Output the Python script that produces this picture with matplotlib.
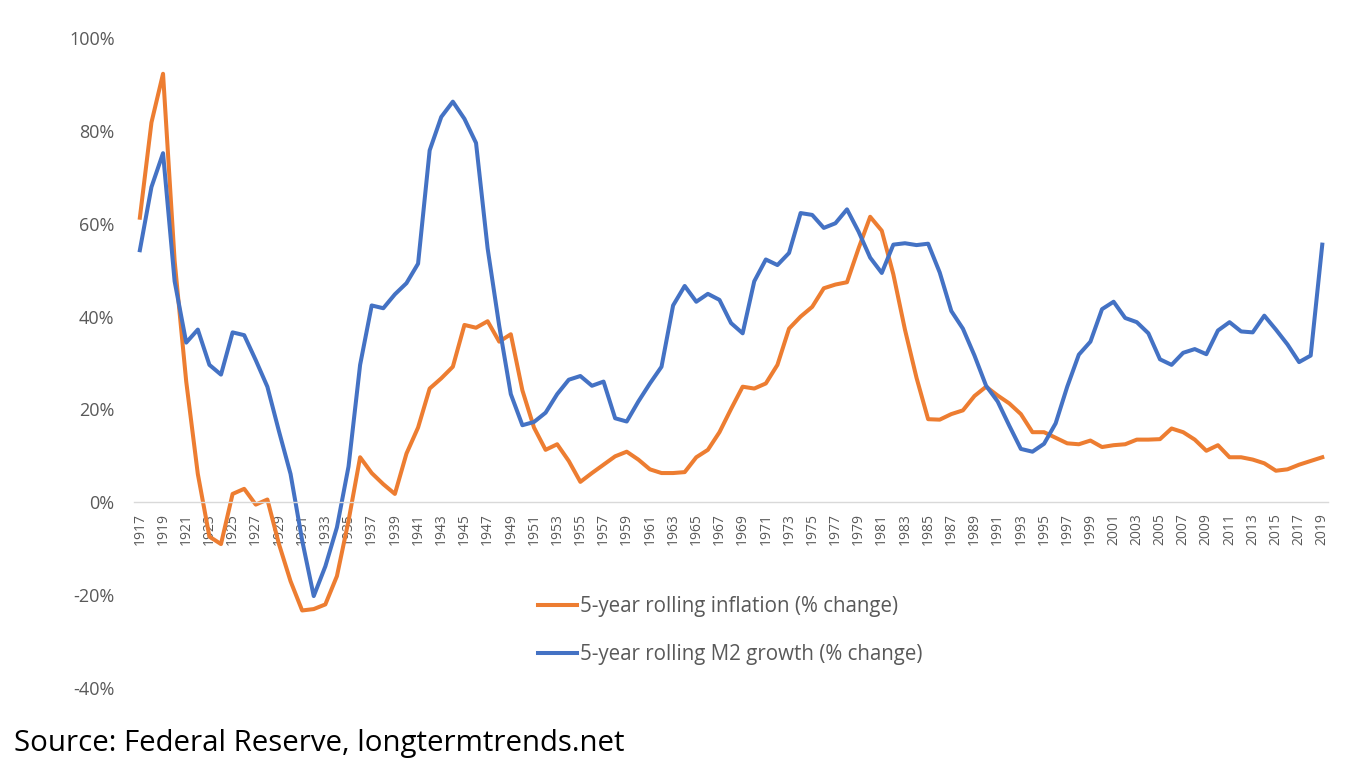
import numpy as np
import matplotlib.pyplot as plt
from matplotlib.ticker import FuncFormatter

years = list(range(1917, 2020))

inflation = [
    61.3, 81.8, 92.3, 52.0, 26.0, 6.1, -7.4, -9.0, 1.8, 2.9,
    -0.5, 0.6, -9.0, -17.0, -23.3, -23.0, -22.0, -15.9, -4.0, 9.7,
    6.3, 3.9, 1.8, 10.5, 16.1, 24.5, 26.7, 29.2, 38.2, 37.6,
    39.0, 34.6, 36.2, 24.1, 16.1, 11.3, 12.5, 8.9, 4.4, 6.3,
    8.1, 9.9, 10.9, 9.2, 7.1, 6.3, 6.3, 6.5, 9.7, 11.3,
    15.1, 20.1, 24.9, 24.5, 25.6, 29.6, 37.4, 40.0, 42.1, 46.1,
    46.9, 47.4, 54.7, 61.5, 58.5, 49.1, 37.2, 26.8, 17.9, 17.8,
    19.0, 19.8, 22.9, 24.9, 23.0, 21.3, 19.0, 15.1, 15.1, 13.9,
    12.7, 12.5, 13.3, 11.9, 12.3, 12.5, 13.5, 13.5, 13.6, 15.9,
    15.1, 13.5, 11.1, 12.3, 9.7, 9.7, 9.2, 8.4, 6.8, 7.1,
    8.1, 8.9, 9.7,
]

m2_growth = [
    54.3, 67.9, 75.2, 47.6, 34.4, 37.2, 29.6, 27.5, 36.6, 36.0,
    30.6, 24.9, 15.3, 6.1, -8.2, -20.2, -13.8, -5.4, 7.7, 29.6,
    42.4, 41.8, 44.8, 47.2, 51.4, 75.8, 83.0, 86.3, 82.6, 77.4,
    54.7, 38.0, 23.3, 16.6, 17.3, 19.3, 23.3, 26.4, 27.2, 25.1,
    26.0, 18.1, 17.4, 21.7, 25.6, 29.2, 42.4, 46.6, 43.2, 44.9,
    43.6, 38.6, 36.4, 47.6, 52.3, 51.1, 53.7, 62.3, 61.9, 59.1,
    60.1, 63.1, 58.3, 52.7, 49.4, 55.5, 55.8, 55.4, 55.7, 49.5,
    41.2, 37.4, 31.6, 25.1, 21.7, 16.5, 11.5, 10.9, 12.6, 17.0,
    24.9, 31.8, 34.6, 41.6, 43.2, 39.7, 38.8, 36.4, 30.8, 29.6,
    32.2, 33.0, 31.9, 37.0, 38.8, 36.8, 36.6, 40.2, 37.2, 34.0,
    30.2, 31.6, 55.5,
]

labels = ['5-year rolling inflation (% change)', '5-year rolling M2 growth (% change)']

plt.rcParams['font.family'] = ['Open Sans', 'DejaVu Sans']

fig = plt.figure(figsize=(13.61, 7.70), dpi=100)
ax = fig.add_axes([0.0985, 0.1065, 0.8773, 0.8441])

ax.plot(years, inflation, color='#ED7D31', lw=2.9, label=labels[0], solid_joinstyle='round')
ax.plot(years, m2_growth, color='#4472C4', lw=2.9, label=labels[1], solid_joinstyle='round')

ax.set_xlim(years[0] - 0.5, years[-1] + 0.5)
ax.set_ylim(-40, 100)
ax.set_yticks(np.arange(-40, 101, 20))
ax.yaxis.set_major_formatter(FuncFormatter(lambda v, p: f'{v:.0f}%'))
ax.set_xticks(years[::2])
ax.tick_params(axis='x', rotation=90, labelsize=10, colors='#595959', length=0, pad=8)
ax.tick_params(axis='y', labelsize=13, colors='#595959', length=0, pad=14)

for s in ['top', 'right', 'left']:
    ax.spines[s].set_visible(False)
ax.spines['bottom'].set_position(('data', 0))
ax.spines['bottom'].set_color('#D9D9D9')
ax.spines['bottom'].set_linewidth(1.0)

ax.legend(loc='upper left', bbox_to_anchor=(538 / 1361, 1 - 596 / 770),
          bbox_transform=fig.transFigure, frameon=False, fontsize=14.8,
          handlelength=1.9, handletextpad=0.12, labelspacing=1.3,
          labelcolor='#595959', borderpad=0, borderaxespad=0)

fig.text(14 / 1361, 1 - 743 / 770, 'Source: Federal Reserve, longtermtrends.net',
         fontsize=21.2, color='black', va='center', ha='left')

fig.savefig('out.png', dpi=100)
